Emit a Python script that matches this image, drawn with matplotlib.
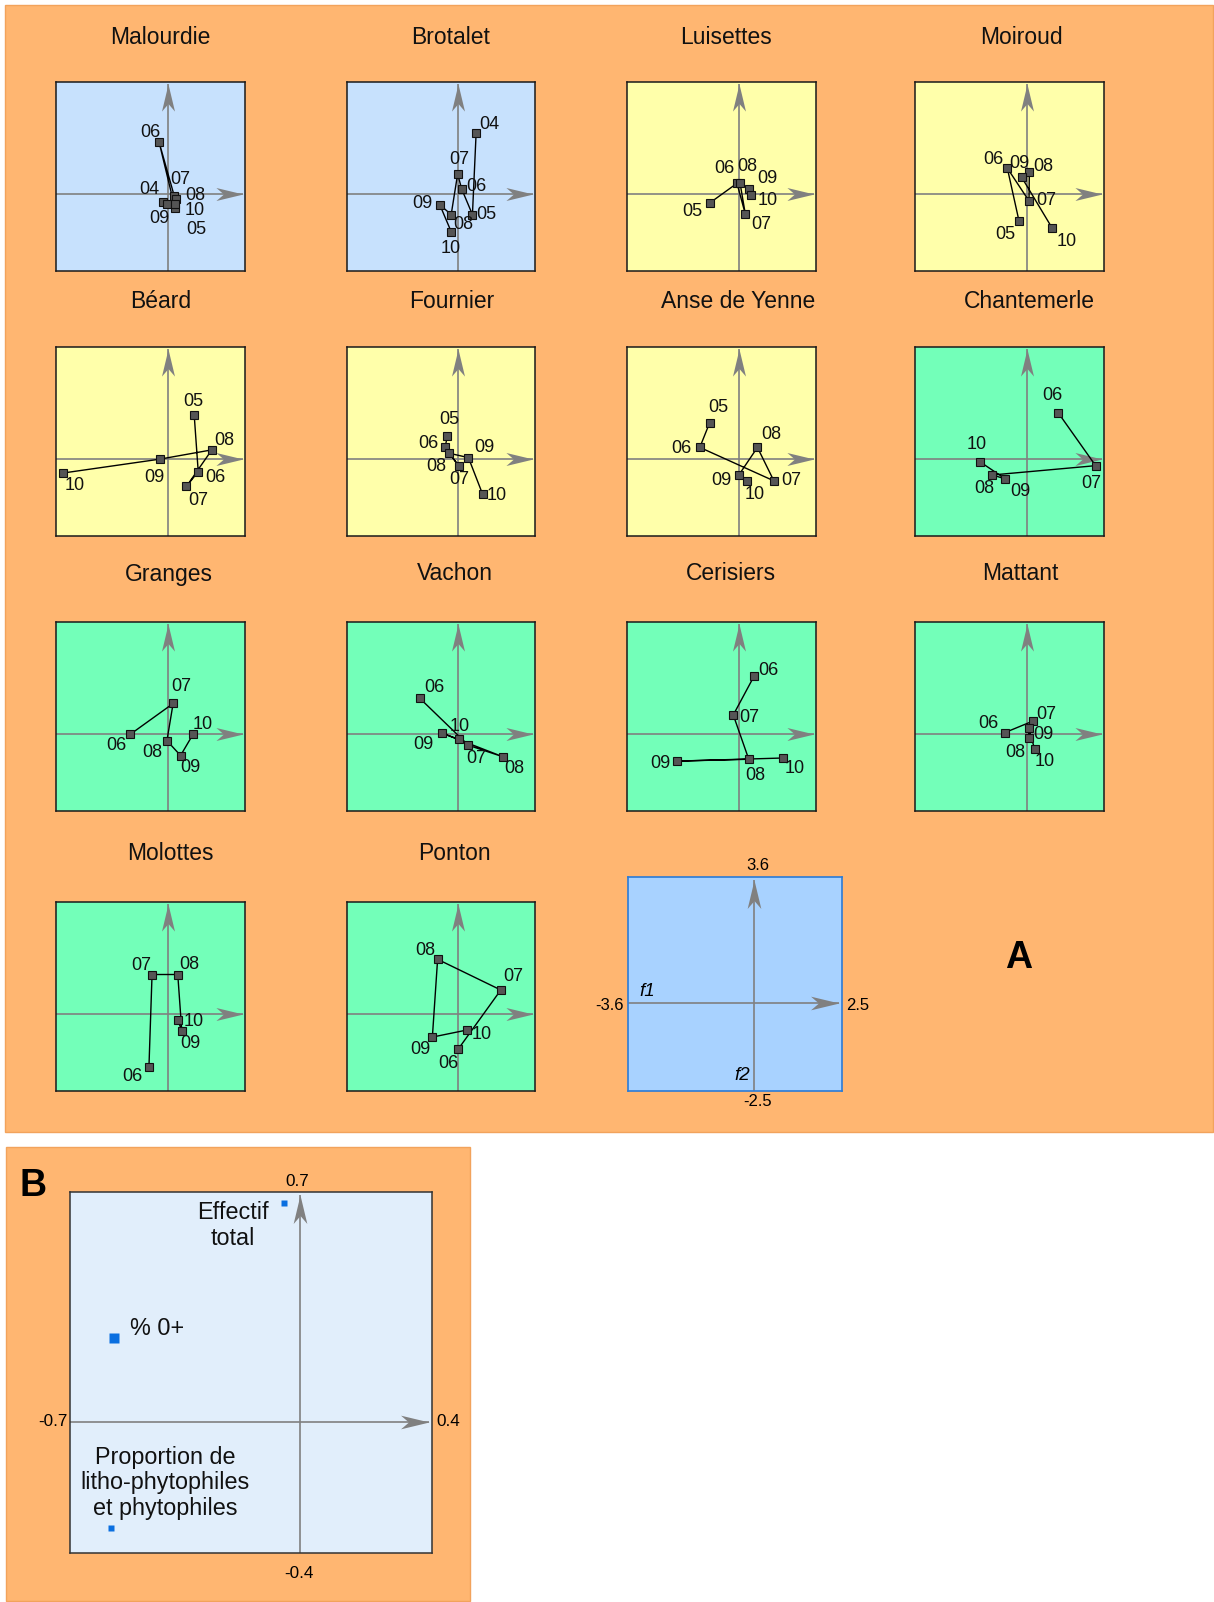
import matplotlib
matplotlib.use('Agg')
import matplotlib.pyplot as plt
from matplotlib.patches import Rectangle
from matplotlib.path import Path

plt.rcParams['font.family'] = ['Liberation Sans', 'DejaVu Sans']

# ---------------- data ----------------
sites = ['Malourdie', 'Brotalet', 'Luisettes', 'Moiroud',
         'Béard', 'Fournier', 'Anse de Yenne', 'Chantemerle',
         'Granges', 'Vachon', 'Cerisiers', 'Mattant',
         'Molottes', 'Ponton']

year_labels = {
    'Malourdie': ['04', '05', '06', '07', '08', '09', '10'],
    'Brotalet': ['04', '05', '06', '07', '08', '09', '10'],
    'Luisettes': ['05', '06', '07', '08', '09', '10'],
    'Moiroud': ['05', '06', '07', '08', '09', '10'],
    'Béard': ['05', '06', '07', '08', '09', '10'],
    'Fournier': ['05', '06', '07', '08', '09', '10'],
    'Anse de Yenne': ['05', '06', '07', '08', '09', '10'],
    'Chantemerle': ['06', '07', '08', '09', '10'],
    'Granges': ['06', '07', '08', '09', '10'],
    'Vachon': ['06', '07', '08', '09', '10'],
    'Cerisiers': ['06', '07', '08', '09', '10'],
    'Mattant': ['06', '07', '08', '09', '10'],
    'Molottes': ['06', '07', '08', '09', '10'],
    'Ponton': ['06', '07', '08', '09', '10'],
}

f1_scores = {
    'Malourdie': [-0.14, 0.24, -0.27, 0.22, 0.26, -0.01, 0.24],
    'Brotalet': [0.59, 0.47, 0.12, -0.01, -0.22, -0.59, -0.22],
    'Luisettes': [-0.91, -0.05, 0.22, 0.05, 0.34, 0.41],
    'Moiroud': [-0.24, -0.62, 0.08, 0.09, -0.16, 0.83],
    'Béard': [0.86, 0.99, 0.61, 1.43, -0.25, -3.39],
    'Fournier': [-0.34, -0.42, 0.02, -0.28, 0.34, 0.80],
    'Anse de Yenne': [-0.93, -1.25, 1.14, 0.61, 0.01, 0.26],
    'Chantemerle': [1.02, 2.23, -1.10, -0.68, -1.51],
    'Granges': [-1.21, 0.18, -0.02, 0.42, 0.82],
    'Vachon': [-1.24, 0.34, 1.46, -0.53, 0.02],
    'Cerisiers': [0.50, -0.17, 0.33, -1.99, 1.42],
    'Mattant': [-0.70, 0.20, 0.07, 0.07, 0.26],
    'Molottes': [-0.60, -0.50, 0.33, 0.46, 0.33],
    'Ponton': [0.00, 1.39, -0.66, -0.83, 0.30],
}

f2_scores = {
    'Malourdie': [-0.28, -0.47, 1.65, -0.09, -0.19, -0.34, -0.34],
    'Brotalet': [1.96, -0.68, 0.15, 0.63, -0.68, -0.36, -1.23],
    'Luisettes': [-0.29, 0.33, -0.67, 0.33, 0.14, -0.04],
    'Moiroud': [-0.90, 0.82, -0.24, 0.71, 0.53, -1.12],
    'Béard': [1.41, -0.42, -0.90, 0.28, -0.02, -0.47],
    'Fournier': [0.73, 0.36, -0.23, 0.17, 0.03, -1.15],
    'Anse de Yenne': [1.16, 0.36, -0.72, 0.36, -0.53, -0.72],
    'Chantemerle': [1.48, -0.23, -0.53, -0.66, -0.10],
    'Granges': [-0.03, 0.97, -0.23, -0.71, -0.03],
    'Vachon': [1.14, -0.38, -0.75, 0.02, -0.19],
    'Cerisiers': [1.85, 0.60, -0.83, -0.89, -0.79],
    'Mattant': [0.03, 0.40, -0.13, 0.17, -0.50],
    'Molottes': [-1.72, 1.26, 1.26, -0.56, -0.20],
    'Ponton': [-1.16, 0.76, 1.75, -0.76, -0.53],
}

f1_limits = [-3.6, 2.5]
f2_limits = [-2.5, 3.6]

var_names = ['Effectif\ntotal', '% 0+', 'Proportion de\nlitho-phytophiles\net phytophiles']
var_f1 = [-0.049, -0.565, -0.574]
var_f2 = [0.667, 0.256, -0.323]
var_f1_limits = [-0.7, 0.4]
var_f2_limits = [-0.4, 0.7]

# ---------------- layout / style ----------------
label_offsets = {
    'Malourdie': [(-14, 13), (21, -21), (-9, 10), (6, 17), (20, 4), (-8, -14), (20, -6)],
    'Brotalet': [(13, 8), (14, 0), (15, 2), (2, 15), (12, -10), (-17, 1), (0, -17)],
    'Luisettes': [(-18, -9), (-13, 15), (16, -10), (7, 17), (18, 11), (16, -6)],
    'Moiroud': [(-14, -13), (-14, 9), (17, 0), (14, 5), (-2, 14), (14, -13)],
    'Béard': [(-1, 13), (17, -6), (12, -14), (12, 9), (-5, -18), (12, -12)],
    'Fournier': [(2, 16), (-17, 4), (1, -14), (-13, -13), (16, 10), (14, -1)],
    'Anse de Yenne': [(9, 15), (-18, -1), (17, 0), (14, 13), (-17, -6), (8, -14)],
    'Chantemerle': [(-6, 17), (-4, -18), (-8, -14), (15, -13), (-3, 17)],
    'Granges': [(-14, -11), (8, 17), (-15, -12), (10, -12), (10, 10)],
    'Vachon': [(15, 11), (8, -13), (11, -12), (-18, -12), (1, 13)],
    'Cerisiers': [(14, 6), (16, -3), (7, -16), (-17, -2), (12, -10)],
    'Mattant': [(-16, 9), (14, 7), (-13, -15), (15, -6), (10, -12)],
    'Molottes': [(-17, -10), (-11, 9), (12, 10), (9, -13), (16, -2)],
    'Ponton': [(-10, -14), (12, 13), (-12, 9), (-12, -12), (14, -5)],
}

BLUE = '#C7E1FD'
YELLOW = '#FFFFAA'
GREEN = '#73FFB9'
panel_colors = [BLUE, BLUE, YELLOW, YELLOW,
                YELLOW, YELLOW, YELLOW, GREEN,
                GREEN, GREEN, GREEN, GREEN,
                GREEN, GREEN]

col_x = [(56, 245), (347, 535), (627, 816), (915, 1104)]
row_y = [(82, 271), (347, 536), (622, 811), (902, 1091)]
title_x = [[160, 451, 726, 1021], [161, 452, 738, 1029],
           [169, 455, 731, 1020], [170, 454]]
title_y = [37, 302, 574, 853]

W, H = 1214, 1602
DPI = 100
fig = plt.figure(figsize=(W / DPI, H / DPI), dpi=DPI)
fig.patch.set_facecolor('white')


def px_axes(x0, y0, x1, y1):
    return fig.add_axes([x0 / W, 1 - y1 / H, (x1 - x0) / W, (y1 - y0) / H])


def px_text(x, y, s, **kw):
    fig.text(x / W, 1 - y / H, s, **kw)


def px_rect(x0, y0, x1, y1, **kw):
    fig.add_artist(Rectangle((x0 / W, 1 - y1 / H), (x1 - x0) / W, (y1 - y0) / H,
                             transform=fig.transFigure, **kw))


HEAD_R = Path([(0, 0), (-1, 0.24), (-0.72, 0), (-1, -0.24), (0, 0)],
              [Path.MOVETO, Path.LINETO, Path.LINETO, Path.LINETO, Path.CLOSEPOLY])
HEAD_U = Path([(0, 0), (0.24, -1), (0, -0.72), (-0.24, -1), (0, 0)],
              [Path.MOVETO, Path.LINETO, Path.LINETO, Path.LINETO, Path.CLOSEPOLY])

AXCOL = '#808080'


def draw_cross(ax, xlim, ylim, ms=39, inset=0.012, lw=1.2):
    x0, x1 = xlim
    y0, y1 = ylim
    tipx = x1 - inset * (x1 - x0)
    tipy = y1 - inset * (y1 - y0)
    ax.plot([x0, tipx], [0, 0], color=AXCOL, lw=lw, zorder=1, solid_capstyle='butt')
    ax.plot([0, 0], [y0, tipy], color=AXCOL, lw=lw, zorder=1, solid_capstyle='butt')
    ax.plot([tipx], [0], marker=HEAD_R, ms=ms, color=AXCOL, mec='none', zorder=1, ls='none')
    ax.plot([0], [tipy], marker=HEAD_U, ms=ms, color=AXCOL, mec='none', zorder=1, ls='none')


# orange backgrounds
px_rect(5, 5, 1213, 1132, facecolor='#FFB671', edgecolor='#F2A35C', lw=1.0, zorder=0)
px_rect(6, 1147, 470, 1601, facecolor='#FFB671', edgecolor='#F2A35C', lw=1.0, zorder=0)

# small site panels
for i, site in enumerate(sites):
    r, c = divmod(i, 4)
    (x0, x1), (y0, y1) = col_x[c], row_y[r]
    ax = px_axes(x0, y0, x1, y1)
    ax.set_xlim(f1_limits)
    ax.set_ylim(f2_limits)
    ax.set_facecolor(panel_colors[i])
    ax.set_xticks([])
    ax.set_yticks([])
    for s in ax.spines.values():
        s.set_color('#1a1a1a')
        s.set_linewidth(1.1)
    draw_cross(ax, f1_limits, f2_limits)
    xs, ys = f1_scores[site], f2_scores[site]
    ax.plot(xs, ys, '-', color='black', lw=1.0, zorder=3,
            marker='s', ms=5.2, mfc='#555555', mec='#111111', mew=0.8)
    for lbl, x, y, (dx, dy) in zip(year_labels[site], xs, ys, label_offsets[site]):
        ax.annotate(lbl, (x, y), xytext=(dx, dy), textcoords='offset pixels',
                    ha='center', va='center', fontsize=13, color='#111111', zorder=4)
    px_text(title_x[r][c], title_y[r], site, ha='center', va='center',
            fontsize=16.5, color='#111111')

# reference (scale) panel
axr = px_axes(628, 877, 842, 1091)
axr.set_xlim(f1_limits)
axr.set_ylim(f2_limits)
axr.set_facecolor('#A8D2FF')
axr.set_xticks([])
axr.set_yticks([])
for s in axr.spines.values():
    s.set_color('#2B7BD6')
    s.set_linewidth(1.2)
draw_cross(axr, f1_limits, f2_limits, ms=41)
px_text(758, 866, f'{f2_limits[1]:.1f}', ha='center', va='center', fontsize=12)
px_text(858, 1006, f'{f1_limits[1]:.1f}', ha='center', va='center', fontsize=12)
px_text(609, 1006, f'{f1_limits[0]:.1f}', ha='center', va='center', fontsize=12)
px_text(758, 1102, f'{f2_limits[0]:.1f}', ha='center', va='center', fontsize=12)
px_text(647, 992, 'f1', ha='center', va='center', fontsize=13.5, style='italic')
px_text(742, 1075, 'f2', ha='center', va='center', fontsize=13.5, style='italic')

px_text(1019, 958, 'A', ha='center', va='center', fontsize=27, fontweight='bold')

# panel B: variables
axb = px_axes(70, 1192, 432, 1553)
axb.set_xlim(var_f1_limits)
axb.set_ylim(var_f2_limits)
axb.set_facecolor('#E1EEFB')
axb.set_xticks([])
axb.set_yticks([])
for s in axb.spines.values():
    s.set_color('#333333')
    s.set_linewidth(1.1)
draw_cross(axb, var_f1_limits, var_f2_limits, ms=41, inset=0.008)
var_sizes = [5, 7, 5]
var_offsets = [(-51, -23), (16, 9), (54, 45)]
var_ha = ['center', 'left', 'center']
for name, x, y, ms, (dx, dy), ha in zip(var_names, var_f1, var_f2, var_sizes, var_offsets, var_ha):
    axb.plot([x], [y], marker='s', ms=ms, color='#0A6FE0', mec='none', ls='none', zorder=3)
    axb.annotate(name, (x, y), xytext=(dx, dy), textcoords='offset pixels',
                 ha=ha, va='center', fontsize=16.8, color='#111111',
                 linespacing=1.15, multialignment='center')
px_text(297, 1181, f'{var_f2_limits[1]:.1f}', ha='center', va='center', fontsize=12.3)
px_text(53, 1421, f'{var_f1_limits[0]:.1f}', ha='center', va='center', fontsize=12.3)
px_text(448, 1421, f'{var_f1_limits[1]:.1f}', ha='center', va='center', fontsize=12.3)
px_text(299, 1573, f'{var_f2_limits[0]:.1f}', ha='center', va='center', fontsize=12.3)
px_text(33, 1186, 'B', ha='center', va='center', fontsize=27, fontweight='bold')

fig.savefig('out.png', dpi=DPI, facecolor='white')
